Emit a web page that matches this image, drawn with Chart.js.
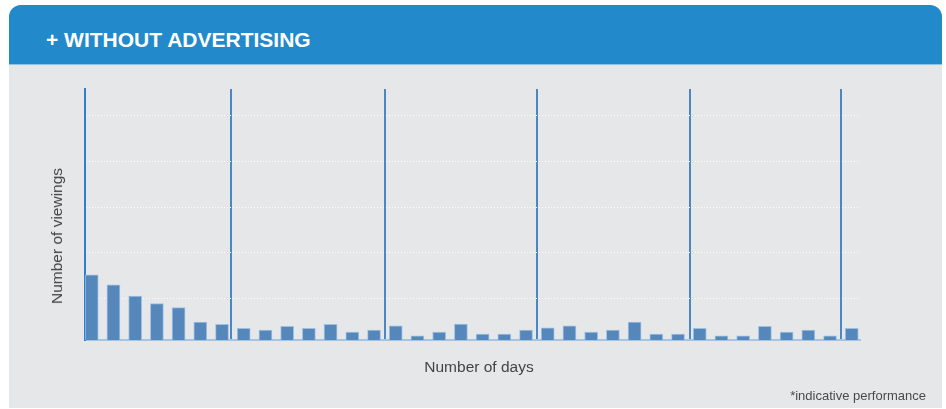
<!DOCTYPE html>
<html>
<head>
<meta charset="utf-8">
<script src="https://cdn.jsdelivr.net/npm/chart.js@4.4.1/dist/chart.umd.min.js"></script>
<style>
  html, body { margin: 0; padding: 0; background: #fff; }
  body { width: 946px; height: 409px; position: relative; overflow: hidden; font-family: "Liberation Sans", Arial, sans-serif; }
  .panel { position: absolute; left: 9px; top: 5px; width: 933px; height: 403px; background: #e6e7e9; border-radius: 12px 12px 0 0; overflow: hidden; }
  .panel-head { height: 59px; background: #2289ca; border-bottom: 1px solid #8ec3e6; }
  .panel-head h3 { margin: 0; position: absolute; left: 37px; top: 23px; color: #fff; font-size: 21px; font-weight: bold; line-height: 24px; }
  #chart { position: absolute; left: 0; top: 0; }
  .ytitle { position: absolute; left: 57px; top: 236px; transform: translate(-50%, -50%) rotate(-90deg); white-space: nowrap; font-size: 15.5px; color: #444; }
  .xtitle { position: absolute; left: 479px; top: 367px; transform: translate(-50%, -50%); white-space: nowrap; font-size: 15.5px; color: #444; }
  .note { position: absolute; right: 20px; top: 388px; font-size: 13px; color: #4a4a4a; white-space: nowrap; }
</style>
</head>
<body>
<div class="panel"><div class="panel-head"><h3>+ WITHOUT ADVERTISING</h3></div></div>
<canvas id="chart" width="946" height="409"></canvas>
<div class="ytitle">Number of viewings</div>
<div class="xtitle">Number of days</div>
<div class="note">*indicative performance</div>
<script>
// day index (0 = first day) and viewings
const days = Array.from({ length: 36 }, (_, i) => i);
const viewings = [
  28.6, 24.2, 19.3, 16.0, 14.2, 7.8, 6.9,
  5.1, 4.3, 6.0, 5.1, 6.9, 3.5, 4.4,
  6.2, 1.8, 3.5, 7.0, 2.6, 2.6, 4.4,
  5.3, 6.2, 3.5, 4.4, 7.8, 2.6, 2.6,
  5.1, 1.8, 1.8, 6.0, 3.5, 4.3, 1.8,
  5.1,
];
// week dividers sit between day 7/8, 14/15 ...
const weekDividers = [6.4, 13.5, 20.5, 27.55, 34.5];
const yGridValues = [18.2, 38.2, 58.2, 78.2, 98.2];
const yMax = 110;

new Chart(document.getElementById('chart'), {
  type: 'bar',
  data: {
    datasets: [{
      label: 'Viewings',
      data: days.map((d, i) => ({ x: d, y: viewings[i] })),
      backgroundColor: '#5587ba',
      borderColor: 'rgba(150,186,226,0.9)',
      borderWidth: 1,
      borderSkipped: 'bottom',
      barThickness: 13,
    }],
  },
  options: {
    responsive: false,
    animation: false,
    layout: { padding: { left: 85, top: 89, right: 86, bottom: 69 } },
    plugins: { legend: { display: false }, tooltip: { enabled: false } },
    scales: {
      x: {
        type: 'linear',
        min: -0.31,
        max: 35.38,
        offset: false,
        bounds: 'data',
        afterBuildTicks: (scale) => { scale.ticks = weekDividers.map((v) => ({ value: v })); },
        ticks: { display: false },
        grid: { offset: false, color: '#4d87c3', lineWidth: 2, drawTicks: false },
        border: { display: true, color: '#a5c3e4', width: 2 },
      },
      y: {
        min: 0,
        max: yMax,
        afterBuildTicks: (scale) => { scale.ticks = yGridValues.map((v) => ({ value: v })); },
        ticks: { display: false },
        grid: { color: 'rgba(255,255,255,0.95)', lineWidth: 1, drawTicks: false },
        border: { display: true, color: '#2b80d0', width: 2, dash: [1, 2] },
      },
    },
  },
});
</script>
</body>
</html>
